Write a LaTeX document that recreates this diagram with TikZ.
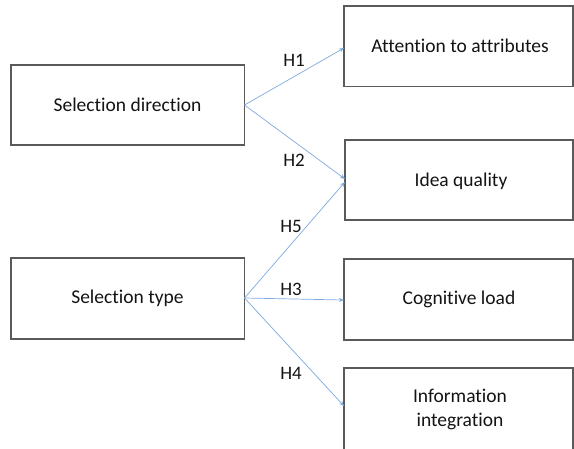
\documentclass[tikz,border=0pt]{standalone}
\usepackage{fontspec}
\setmainfont{Carlito}[RawFeature=-liga]
\usetikzlibrary{arrows.meta}
\definecolor{boxline}{RGB}{90,90,90}
\definecolor{linkblue}{RGB}{125,170,222}
\definecolor{txt}{RGB}{20,20,20}
\begin{document}
\begin{tikzpicture}[x=1pt,y=-1pt,
  box/.style={draw=boxline,line width=1.4pt,fill=white},
  lbl/.style={text=txt,font=\fontsize{19.5}{24}\selectfont,align=center},
  link/.style={draw=linkblue,line width=0.7pt,-{Stealth[length=5pt,width=4pt]}},
  hyp/.style={text=txt,font=\fontsize{19}{22}\selectfont}]
\useasboundingbox (0,0) rectangle (574,448);
% left-hand boxes
\draw[box] (11,65) rectangle (244.5,145);
\node[lbl] (sd) at (127.5,105) {Selection direction};
\coordinate (sdR) at (244.5,105);
\draw[box] (11,258) rectangle (244.5,339);
\node[lbl] (st) at (127.5,298) {Selection type};
\coordinate (stR) at (244.5,298);
% right-hand boxes
\draw[box] (344,6) rectangle (573,86.5);
\node[lbl] (att) at (460,46) {Attention to attributes};
\coordinate (attL) at (344,48);
\draw[box] (345,140) rectangle (573,220);
\node[lbl] (iq) at (461,181) {Idea quality};
\coordinate (iqL1) at (345,179);
\coordinate (iqL2) at (345,182);
\draw[box] (344,259) rectangle (573,340);
\node[lbl] (cl) at (459,299) {Cognitive load};
\coordinate (clL) at (344,300);
\draw[box] (344,368) rectangle (573,452);
\node[lbl] (ii) at (460,409.5) {Information\\integration};
\coordinate (iiL) at (344,406);
% hypothesised effects
\draw[link] (sdR) -- (attL);
\draw[link] (sdR) -- (iqL1);
\draw[link] (stR) -- (iqL2);
\draw[link] (stR) -- (clL);
\draw[link] (stR) -- (iiL);
\node[hyp] (h1) at (294,60) {H1};
\node[hyp] (h2) at (294,160) {H2};
\node[hyp] (h5) at (291,226) {H5};
\node[hyp] (h3) at (291,289) {H3};
\node[hyp] (h4) at (291,373) {H4};
\end{tikzpicture}
\end{document}
